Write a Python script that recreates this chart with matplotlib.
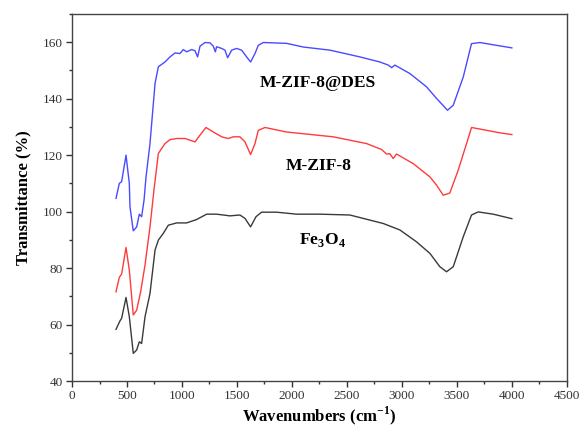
import matplotlib
matplotlib.use("Agg")
import matplotlib.pyplot as plt
from matplotlib.ticker import MultipleLocator

plt.rcParams['font.family'] = ['Liberation Serif', 'DejaVu Serif']
plt.rcParams['mathtext.fontset'] = 'custom'
plt.rcParams['mathtext.rm'] = 'Liberation Serif'
plt.rcParams['mathtext.bf'] = 'Liberation Serif:bold'

# Fe3O4 (black)
fe_x = [400, 436, 451, 491, 521, 557, 588, 612, 633, 664, 709, 755, 785, 830, 876, 952, 1042,
        1133, 1224, 1315, 1436, 1527, 1573, 1624, 1673, 1724, 1861, 2042, 2255, 2527, 2830,
        2982, 3133, 3255, 3345, 3406, 3467, 3558, 3633, 3694, 3830, 4000]
fe_y = [58.3, 61.3, 62.2, 69.6, 62.8, 49.8, 51.0, 53.9, 53.3, 62.8, 71.0, 86.4, 89.9, 92.3, 95.2, 96.0, 96.0,
        97.2, 99.1, 99.1, 98.5, 98.8, 97.6, 94.6, 98.2, 99.8, 99.8, 99.1, 99.1, 98.8, 95.8,
        93.5, 89.3, 85.2, 80.5, 78.7, 80.5, 91.1, 98.8, 99.9, 99.1, 97.5]

# M-ZIF-8 (red)
zif_x = [400, 430, 451, 491, 521, 557, 588, 624, 664, 709, 745, 785, 845, 891, 952, 1027, 1073,
         1118, 1164, 1218, 1285, 1361, 1421, 1467, 1527, 1573, 1624, 1664, 1694, 1755, 1952,
         2224, 2376, 2679, 2815, 2861, 2891, 2921, 2951, 3103, 3255, 3315, 3376, 3436, 3512,
         3588, 3633, 3770, 3891, 4000]
zif_y = [71.6, 76.7, 77.9, 87.3, 79.3, 63.4, 65.1, 71.6, 81.1, 94.6, 107.6, 120.6, 124.1, 125.5, 125.9, 125.9, 125.3,
         124.7, 127.1, 129.8, 128.2, 126.5, 125.9, 126.5, 126.5, 124.7, 120.2, 124.1, 128.8, 129.8, 128.2,
         127.1, 126.5, 124.1, 122.0, 120.4, 120.5, 118.8, 120.4, 117.0, 112.3, 109.4, 105.8, 106.6, 114.7,
         124.1, 129.8, 128.8, 127.9, 127.3]

# M-ZIF-8@DES (blue)
des_x = [400, 430, 451, 491, 521, 527, 557, 588, 612, 633, 655, 673, 709, 755, 785, 845, 891, 936,
         982, 1012, 1042, 1088, 1118, 1142, 1164, 1209, 1254, 1285, 1303, 1315, 1361, 1391, 1415,
         1452, 1497, 1542, 1588, 1624, 1664, 1694, 1739, 1952, 2103, 2345, 2618, 2800, 2876, 2906,
         2936, 3073, 3224, 3315, 3415, 3467, 3558, 3633, 3709, 3830, 4000]
des_y = [104.7, 110.0, 110.6, 120.0, 110.0, 101.7, 93.2, 94.6, 99.1, 98.2, 104.1, 112.3, 124.1, 145.4, 151.3, 153.0, 154.8, 156.2,
         156.0, 157.4, 156.6, 157.4, 157.0, 154.8, 158.6, 159.9, 159.8, 158.6, 156.6, 158.4, 157.8, 157.2, 154.5,
         157.2, 157.8, 157.2, 154.8, 153.0, 156.0, 158.9, 159.9, 159.6, 158.3, 157.2, 154.8, 153.0, 151.9, 151.0,
         151.9, 148.9, 144.2, 140.1, 135.9, 137.7, 147.7, 159.5, 159.9, 159.1, 158.0]

labels = ['M-ZIF-8@DES', 'M-ZIF-8', 'Fe$_\\mathbf{3}$O$_\\mathbf{4}$']

fig = plt.figure(figsize=(5.79, 4.32), dpi=100)
ax = fig.add_axes([0.1244, 0.118, 0.8546, 0.8496])

ax.plot(fe_x, fe_y, color='#3a3a3a', lw=1.0)
ax.plot(zif_x, zif_y, color='#ff3b3b', lw=1.0)
ax.plot(des_x, des_y, color='#4a4aff', lw=1.0)

ax.text(2236, 144.2, labels[0], ha='center', va='baseline', fontsize=12.6, fontweight='bold')
ax.text(2245, 114.9, labels[1], ha='center', va='baseline', fontsize=12.6, fontweight='bold')
ax.text(2273, 88.4, labels[2], ha='center', va='baseline', fontsize=12.6, fontweight='bold')

ax.set_xlim(0, 4500)
ax.set_ylim(40, 170)
ax.xaxis.set_major_locator(MultipleLocator(500))
ax.xaxis.set_minor_locator(MultipleLocator(250))
ax.yaxis.set_major_locator(MultipleLocator(20))
ax.yaxis.set_minor_locator(MultipleLocator(10))
ax.set_yticks([40, 60, 80, 100, 120, 140, 160])
ax.tick_params(which='major', direction='out', length=4, width=1, labelsize=9.5,
               colors='#333333', pad=2.5)
ax.tick_params(which='minor', direction='out', length=2.5, width=1, colors='#333333')
for s in ax.spines.values():
    s.set_linewidth(1.0)
    s.set_color('#444444')

ax.set_xlabel('Wavenumbers (cm$^{\\mathbf{-1}}$)', fontsize=12, fontweight='bold', labelpad=2)
ax.set_ylabel('Transmittance (%)', fontsize=12, fontweight='bold', labelpad=8)

fig.savefig('out.png', dpi=100)
